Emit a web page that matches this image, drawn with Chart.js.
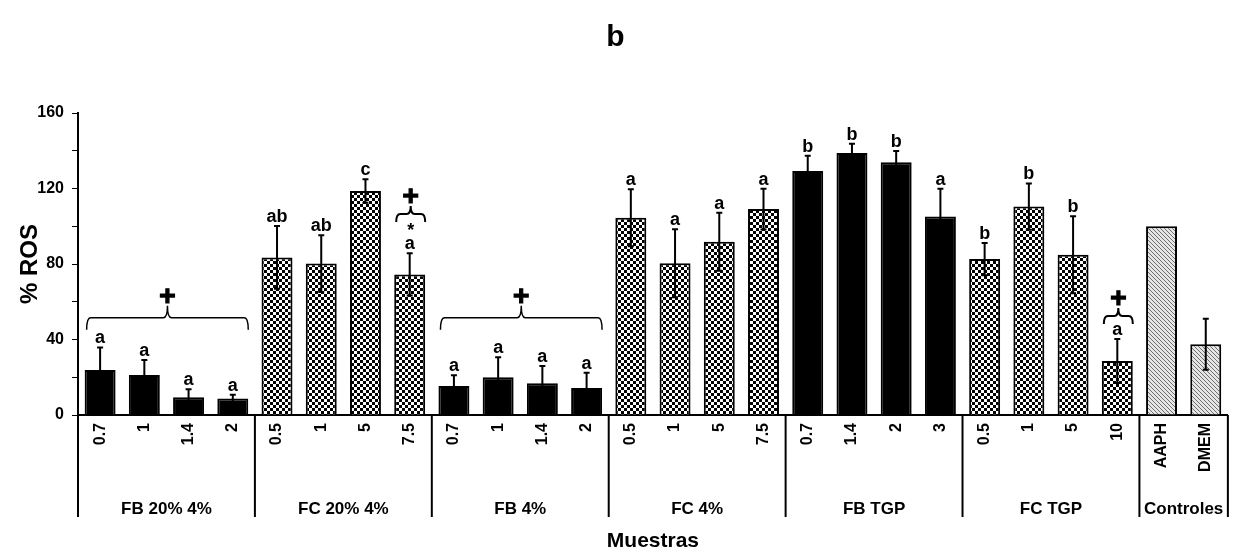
<!DOCTYPE html>
<html>
<head>
<meta charset="utf-8">
<script src="https://cdn.jsdelivr.net/npm/chart.js@4.4.1/dist/chart.umd.min.js"></script>
<style>
   body { margin: 0; background: #fff; }
   #caja { width: 1233px; height: 554px; }
</style>
</head>
<body>
<div id="caja"><canvas id="myChart"></canvas></div>
<script>
//Datos de la grafica

const grupos = ['FB 20% 4%', 'FC 20% 4%', 'FB 4%', 'FC 4%', 'FB TGP', 'FC TGP', 'Controles'];
const tamanos = [4, 4, 4, 4, 4, 4, 2];
const tipos = ['lleno', 'cuadros', 'lleno', 'cuadros', 'lleno', 'cuadros', 'rayas'];

const etiquetas = [
   '0.7', '1', '1.4', '2',
   '0.5', '1', '5', '7.5',
   '0.7', '1', '1.4', '2',
   '0.5', '1', '5', '7.5',
   '0.7', '1.4', '2', '3',
   '0.5', '1', '5', '10',
   'AAPH', 'DMEM'
];

const ros = [
   23.8, 21.2, 9.4, 8.7,
   83.5, 80.2, 118.7, 74.5,
   15.4, 20.0, 16.8, 14.3,
   104.5, 80.4, 91.8, 109.1,
   129.3, 138.8, 133.9, 105.1,
   82.6, 110.4, 84.9, 28.6,
   100, 37.5
];

const error = [
   12, 8, 4.2, 2,
   16.6, 15, 6.2, 11.2,
   5.6, 10.6, 9.2, 8.1,
   15.1, 18, 15.4, 10.8,
   8.1, 4.9, 6, 14.8,
   8.5, 12.3, 20.4, 11.7,
   0, 13.5
];

const letras = [
   'a', 'a', 'a', 'a',
   'ab', 'ab', 'c', 'a',
   'a', 'a', 'a', 'a',
   'a', 'a', 'a', 'a',
   'b', 'b', 'b', 'a',
   'b', 'b', 'b', 'a',
   '', ''
];

// llaves con la cruz (+) encima
const llaves = [
   { desde: 0, hasta: 3, nivel: 51.5 },
   { desde: 7, hasta: 7, nivel: 106.5, marca: '*' },
   { desde: 8, hasta: 11, nivel: 51.5 },
   { desde: 23, hasta: 23, nivel: 52.5 }
];


//Patrones de relleno

function patronCuadros() {
   const c = document.createElement('canvas');
   c.width = 6; c.height = 6;
   const g = c.getContext('2d');
   g.fillStyle = '#fff';
   g.fillRect(0, 0, 6, 6);
   g.fillStyle = '#000';
   g.fillRect(0, 0, 3, 3);
   g.fillRect(3, 3, 3, 3);
   return g.createPattern(c, 'repeat');
}

function patronRayas() {
   const c = document.createElement('canvas');
   c.width = 4; c.height = 4;
   const g = c.getContext('2d');
   g.fillStyle = '#e6e6e6';
   g.fillRect(0, 0, 4, 4);
   g.strokeStyle = '#6e6e6e';
   g.lineWidth = 1;
   g.beginPath();
   g.moveTo(-2, 2); g.lineTo(2, 6);
   g.moveTo(0, 0); g.lineTo(4, 4);
   g.moveTo(2, -2); g.lineTo(6, 2);
   g.stroke();
   return g.createPattern(c, 'repeat');
}

const rellenos = { lleno: '#000', cuadros: patronCuadros(), rayas: patronRayas() };

const colores = [];
tamanos.forEach((n, k) => {
   for (let i = 0; i < n; i++) colores.push(rellenos[tipos[k]]);
});


//Dibujo de errores, letras, llaves y grupos

const fuente = "'Liberation Sans', Arial, sans-serif";

const anotaciones = {
   id: 'anotaciones',
   afterDraw(chart) {
      const ctx = chart.ctx;
      const x = chart.scales.x;
      const y = chart.scales.y;
      const barras = chart.getDatasetMeta(0).data;
      const base = chart.chartArea.bottom;

      ctx.save();
      ctx.strokeStyle = '#000';
      ctx.fillStyle = '#000';

      // barras de error
      ctx.lineWidth = 2;
      ros.forEach((v, i) => {
         if (!error[i]) return;
         const cx = barras[i].x;
         const arriba = y.getPixelForValue(v + error[i]);
         const abajo = y.getPixelForValue(v - error[i]);
         ctx.beginPath();
         ctx.moveTo(cx, arriba); ctx.lineTo(cx, abajo);
         ctx.moveTo(cx - 3, arriba); ctx.lineTo(cx + 3, arriba);
         ctx.moveTo(cx - 3, abajo); ctx.lineTo(cx + 3, abajo);
         ctx.stroke();
      });

      // letras
      ctx.font = 'bold 18px ' + fuente;
      ctx.textAlign = 'center';
      ctx.textBaseline = 'alphabetic';
      ros.forEach((v, i) => {
         if (!letras[i]) return;
         ctx.fillText(letras[i], barras[i].x, y.getPixelForValue(v + error[i]) - 4);
      });

      // llaves
      llaves.forEach(l => {
         const x1 = barras[l.desde].x - barras[l.desde].width / 2 + 2;
         const x2 = barras[l.hasta].x + barras[l.hasta].width / 2;
         const xm = (x1 + x2) / 2;
         const ly = y.getPixelForValue(l.nivel);
         const grande = l.hasta > l.desde;
         const caida = grande ? 12 : 8;
         const pico = grande ? 12 : 8;
         const r = 4;
         ctx.lineWidth = grande ? 1.5 : 2;
         ctx.beginPath();
         ctx.moveTo(x1, ly + caida);
         ctx.quadraticCurveTo(x1, ly, x1 + r, ly);
         ctx.lineTo(xm - r, ly);
         ctx.quadraticCurveTo(xm, ly, xm, ly - pico);
         ctx.moveTo(x2, ly + caida);
         ctx.quadraticCurveTo(x2, ly, x2 - r, ly);
         ctx.lineTo(xm + r, ly);
         ctx.quadraticCurveTo(xm, ly, xm, ly - pico);
         ctx.stroke();
         ctx.font = 'bold 28px ' + fuente;
         ctx.textBaseline = 'middle';
         ctx.lineWidth = 1.2;
         ctx.fillText('+', xm, ly - pico - 9);
         ctx.strokeText('+', xm, ly - pico - 9);
         if (l.marca) {
            ctx.font = 'bold 18px ' + fuente;
            ctx.textBaseline = 'alphabetic';
            ctx.fillText(l.marca, xm, ly + 22);
         }
      });

      // separadores y nombres de grupo
      ctx.lineWidth = 2;
      let inicio = 0;
      ctx.beginPath();
      ctx.moveTo(x.getPixelForValue(-0.5), base);
      ctx.lineTo(x.getPixelForValue(-0.5), 517);
      ctx.stroke();
      ctx.font = 'bold 17px ' + fuente;
      ctx.textBaseline = 'middle';
      tamanos.forEach((n, k) => {
         const izq = x.getPixelForValue(inicio - 0.5);
         const der = x.getPixelForValue(inicio + n - 0.5);
         ctx.beginPath();
         ctx.moveTo(der, base);
         ctx.lineTo(der, 517);
         ctx.stroke();
         ctx.fillText(grupos[k], (izq + der) / 2, 509);
         inicio += n;
      });

      ctx.restore();
   }
};


//Crear la grafica

Chart.defaults.font.family = fuente;
Chart.defaults.font.weight = 'bold';
Chart.defaults.color = '#000';

const data = {
   labels: etiquetas,
   datasets: [{
      label: '% ROS',
      data: ros,
      backgroundColor: colores,
      borderColor: '#000',
      borderWidth: 2,
      categoryPercentage: 1,
      barPercentage: 0.7
   }]
};

const config = {
   type: 'bar',
   data: data,
   options: {
      responsive: true,
      maintainAspectRatio: false,
      animation: false,
      layout: { padding: { left: 0, right: 2, top: 0, bottom: 0 } },
      plugins: {
         legend: { display: false },
         tooltip: { enabled: false },
         title: {
            display: true,
            text: 'b',
            font: { size: 30, weight: 'bold' },
            padding: { top: 20, bottom: 57 }
         }
      },
      scales: {
         x: {
            grid: { display: false, drawTicks: false },
            border: { display: true, color: '#000', width: 2 },
            ticks: {
               font: { size: 16, weight: 'bold' },
               minRotation: 90,
               maxRotation: 90,
               autoSkip: false,
               padding: 8
            },
            title: {
               display: true,
               text: 'Muestras',
               font: { size: 21, weight: 'bold' },
               padding: { top: 0, bottom: 0 }
            },
            afterFit: s => { s.height = 139; }
         },
         y: {
            min: 0,
            max: 160,
            grid: { drawOnChartArea: false, drawTicks: true, tickLength: 6, color: '#000' },
            border: { display: true, color: '#000', width: 2 },
            ticks: {
               stepSize: 20,
               padding: 8,
               font: { size: 16, weight: 'bold' },
               callback: v => (v % 40 === 0 ? v : '')
            },
            title: {
               display: true,
               text: '% ROS',
               font: { size: 24, weight: 'bold' },
               padding: { top: 16, bottom: 0 }
            },
            afterFit: s => { s.width = 78; }
         }
      }
   },
   plugins: [anotaciones]
};

const myChart = new Chart(
   document.getElementById('myChart'),
   config
);
</script>
</body>
</html>
